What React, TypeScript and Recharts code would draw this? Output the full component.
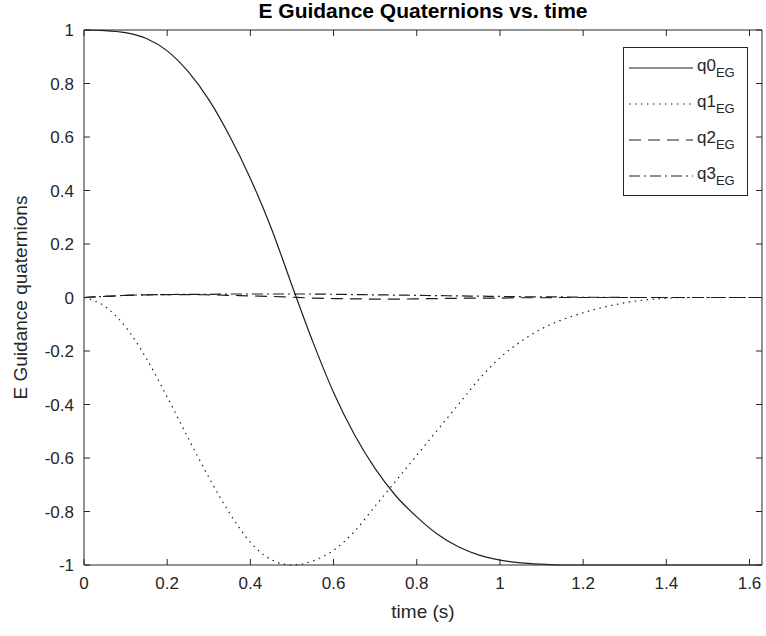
import React from 'react';
import { LineChart, Line, XAxis, YAxis, ReferenceLine, Label } from 'recharts';

const time = [
  0, 0.05, 0.1, 0.15, 0.2, 0.25, 0.3, 0.35, 0.4, 0.45, 0.5, 0.55, 0.6, 0.65, 0.7, 0.75, 0.8,
  0.85, 0.9, 0.95, 1.0, 1.05, 1.1, 1.15, 1.2, 1.25, 1.3, 1.35, 1.4, 1.45, 1.5, 1.55, 1.6, 1.63,
];

const q0 = [
  1, 0.998, 0.99, 0.968, 0.922, 0.845, 0.74, 0.604, 0.445, 0.26, 0.045, -0.165, -0.355, -0.512,
  -0.64, -0.742, -0.82, -0.885, -0.932, -0.963, -0.982, -0.992, -0.997, -1, -1, -1, -1, -1, -1,
  -1, -1, -1, -1, -1,
];

const q1 = [
  0, -0.033, -0.11, -0.228, -0.372, -0.524, -0.672, -0.806, -0.915, -0.98, -1, -0.985, -0.945,
  -0.875, -0.78, -0.685, -0.59, -0.495, -0.4, -0.305, -0.225, -0.165, -0.117, -0.083, -0.057,
  -0.036, -0.02, -0.009, -0.003, 0, 0, 0, 0, 0,
];

const q2 = [
  0, 0.004, 0.008, 0.01, 0.011, 0.011, 0.01, 0.008, 0.006, 0.004, 0.001, -0.002, -0.004, -0.005,
  -0.006, -0.006, -0.005, -0.004, -0.003, -0.002, -0.002, -0.001, -0.001, 0, 0, 0, 0, 0, 0, 0,
  0, 0, 0, 0,
];

const q3 = [
  0, 0.004, 0.008, 0.01, 0.011, 0.012, 0.012, 0.013, 0.013, 0.013, 0.013, 0.013, 0.012, 0.011,
  0.01, 0.009, 0.008, 0.007, 0.006, 0.005, 0.004, 0.003, 0.002, 0.002, 0.001, 0.001, 0, 0, 0, 0,
  0, 0, 0, 0,
];

const xTicks = [0, 0.2, 0.4, 0.6, 0.8, 1, 1.2, 1.4, 1.6];
const yTicks = [-1, -0.8, -0.6, -0.4, -0.2, 0, 0.2, 0.4, 0.6, 0.8, 1];

const series = [
  { key: 'q0', values: q0, dash: undefined as string | undefined },
  { key: 'q1', values: q1, dash: '1.5 4.5' },
  { key: 'q2', values: q2, dash: '12 7' },
  { key: 'q3', values: q3, dash: '11 4 2 4' },
];

const data = time.map((t, i) => {
  const row: Record<string, number> = { t };
  series.forEach((s) => {
    row[s.key] = s.values[i];
  });
  return row;
});

const W = 766;
const H = 636;
const LEFT = 84;
const TOP = 30;
const RIGHT = 4;
const BOTTOM = 71;
const PW = W - LEFT - RIGHT;
const PH = H - TOP - BOTTOM;
const TICK = 6;
const AXIS = '#262626';
const LINE = '#1e1e1e';
const FONT = '"Liberation Sans", Arial, Helvetica, sans-serif';

const fmt = (v: number) => String(Number(v.toFixed(1)));

const XTick = (props: any) => {
  const { x, y, payload } = props;
  return (
    <g>
      <line x1={x} x2={x} y1={y} y2={y - TICK} stroke={AXIS} />
      <line x1={x} x2={x} y1={y - PH} y2={y - PH + TICK} stroke={AXIS} />
      <text x={x} y={y + 24} textAnchor="middle" fontSize={17} fill={AXIS} fontFamily={FONT}>
        {fmt(payload.value)}
      </text>
    </g>
  );
};

const YTick = (props: any) => {
  const { x, y, payload } = props;
  return (
    <g>
      <line x1={x} x2={x + TICK} y1={y} y2={y} stroke={AXIS} />
      <line x1={x + PW} x2={x + PW - TICK} y1={y} y2={y} stroke={AXIS} />
      <text x={x - 10} y={y + 6} textAnchor="end" fontSize={17} fill={AXIS} fontFamily={FONT}>
        {fmt(payload.value)}
      </text>
    </g>
  );
};

const Legend = () => (
  <div
    style={{
      position: 'absolute',
      left: 623,
      top: 47,
      width: 123,
      height: 147,
      border: `1px solid ${AXIS}`,
      background: '#fff',
      fontFamily: FONT,
      color: AXIS,
    }}
  >
    {series.map((s, i) => (
      <div key={s.key} style={{ position: 'absolute', left: 0, top: 9 + i * 36, height: 26, width: 123 }}>
        <svg width={66} height={24} style={{ position: 'absolute', left: 5, top: 0 }}>
          <line x1={0} x2={64} y1={11} y2={11} stroke={LINE} strokeWidth={1.2} strokeDasharray={s.dash} />
        </svg>
        <span style={{ position: 'absolute', left: 73, top: -1, fontSize: 17, whiteSpace: 'nowrap' }}>
          {s.key}
          <sub style={{ fontSize: 13, verticalAlign: -6 }}>EG</sub>
        </span>
      </div>
    ))}
  </div>
);

export default function App() {
  return (
    <div style={{ position: 'absolute', left: 0, top: 0, width: W, height: H, background: '#fff' }}>
      <div
        style={{
          position: 'absolute',
          left: LEFT,
          width: PW,
          top: -1,
          textAlign: 'center',
          fontFamily: FONT,
          fontWeight: 'bold',
          fontSize: 21,
          color: '#000',
        }}
      >
        E Guidance Quaternions vs. time
      </div>
      <LineChart width={W} height={H} data={data} margin={{ top: TOP, right: RIGHT, bottom: 0, left: 0 }}>
        <XAxis
          dataKey="t"
          type="number"
          domain={[0, 1.63]}
          allowDataOverflow
          ticks={xTicks}
          interval={0}
          height={BOTTOM}
          tickSize={0}
          tickMargin={0}
          tickLine={false}
          tick={<XTick />}
          axisLine={{ stroke: AXIS }}
        >
          <Label
            content={(p: any) => (
              <text
                x={p.viewBox.x + p.viewBox.width / 2}
                y={p.viewBox.y + 53}
                textAnchor="middle"
                fontSize={19}
                fill={AXIS}
                fontFamily={FONT}
              >
                time (s)
              </text>
            )}
          />
        </XAxis>
        <YAxis
          type="number"
          domain={[-1, 1]}
          ticks={yTicks}
          interval={0}
          width={LEFT}
          tickSize={0}
          tickMargin={0}
          tickLine={false}
          tick={<YTick />}
          axisLine={{ stroke: AXIS }}
        >
          <Label
            content={(p: any) => {
              const cx = 27;
              const cy = p.viewBox.y + p.viewBox.height / 2;
              return (
                <text
                  x={cx}
                  y={cy}
                  textAnchor="middle"
                  fontSize={19}
                  fill={AXIS}
                  fontFamily={FONT}
                  transform={`rotate(-90 ${cx} ${cy})`}
                >
                  E Guidance quaternions
                </text>
              );
            }}
          />
        </YAxis>
        <ReferenceLine y={1} stroke={AXIS} />
        <ReferenceLine x={1.63} stroke={AXIS} />
        {series.map((s) => (
          <Line
            key={s.key}
            dataKey={s.key}
            type="monotone"
            stroke={LINE}
            strokeWidth={1.2}
            strokeDasharray={s.dash}
            dot={false}
            activeDot={false}
            isAnimationActive={false}
          />
        ))}
      </LineChart>
      <Legend />
    </div>
  );
}
